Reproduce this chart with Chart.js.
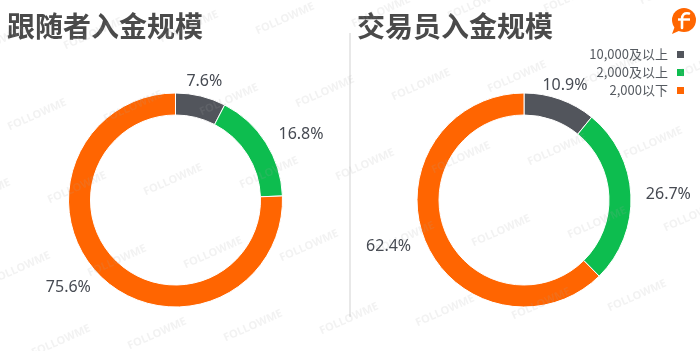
<!DOCTYPE html>
<html>
<head>
<meta charset="utf-8">
<script src="https://cdn.jsdelivr.net/npm/chart.js@4/dist/chart.umd.min.js"></script>
<style>
  html, body { margin: 0; padding: 0; background: #ffffff; }
  #wrap { position: relative; width: 700px; height: 351px; overflow: hidden; background: #fff; }
  .title { position: absolute; top: 8px; font-family: "Noto Sans CJK SC", sans-serif; font-weight: 700;
           font-size: 28px; line-height: 34px; color: #4a4a4a; white-space: nowrap; }
  canvas { position: absolute; top: 0; }
  #divider { position: absolute; left: 349px; top: 33px; width: 2px; height: 284px; background: #e8e8e8; }
  #legend { position: absolute; right: 16px; top: 45px; font-family: "Noto Sans CJK SC", "Noto Sans", sans-serif;
            font-size: 13px; color: #555a60; text-align: right; }
  #legend .row { height: 18px; line-height: 18px; white-space: nowrap; }
  #legend .box { display: inline-block; width: 7px; height: 7px; margin-left: 9px; vertical-align: 1px; }
  .wm { position: absolute; font-family: "Open Sans", sans-serif; font-weight: 700; font-size: 11px;
        color: rgba(170,170,170,0.15); transform: rotate(-24deg); white-space: nowrap; pointer-events: none; }
  #logo { position: absolute; left: 670px; top: 6px; }
</style>
</head>
<body>
<div id="wrap">
  <canvas id="c1" width="350" height="351" style="left:0px"></canvas>
  <canvas id="c2" width="350" height="351" style="left:350px"></canvas>
  <div id="divider"></div>
  <div class="title" id="t1" style="left:7px"></div>
  <div class="title" id="t2" style="left:357px"></div>
  <div id="legend"></div>
  <svg id="logo" width="28" height="30" viewBox="0 0 28 30">
    <circle cx="14" cy="14" r="12" fill="#ff6600"/>
    <path d="M5 20 L2 28 L11 24 Z" fill="#ff6600"/>
    <path d="M19 7.5 C14 6.5 12 9 12 13 L12 22" stroke="#fff" stroke-width="2.6" fill="none" stroke-linecap="round"/>
    <path d="M8 13.5 L20 13.5" stroke="#fff" stroke-width="2.4" fill="none"/>
  </svg>
</div>
<script>
// ---- data ----
const categories = ['10,000及以上', '2,000及以上', '2,000以下'];
const followerValues = [7.6, 16.8, 75.6];
const traderValues = [10.9, 26.7, 62.4];
const titles = ['跟随者入金规模', '交易员入金规模'];
const colors = ['#52555c', '#0dbd4f', '#ff6501'];

document.getElementById('t1').textContent = titles[0];
document.getElementById('t2').textContent = titles[1];

// legend
const legend = document.getElementById('legend');
categories.forEach((c, i) => {
  const row = document.createElement('div');
  row.className = 'row';
  const s = document.createElement('span');
  s.textContent = c;
  const b = document.createElement('span');
  b.className = 'box';
  b.style.background = colors[i];
  row.appendChild(s); row.appendChild(b);
  legend.appendChild(row);
});

// watermark
const wrap = document.getElementById('wrap');
for (let i = -4; i < 10; i++) {
  for (let j = -5; j < 5; j++) {
    const x = 17 + 96 * i + 40 * j;
    const y = 267 - 7.5 * i + 73 * j;
    if (x < -60 || x > 760 || y < -20 || y > 370) continue;
    const d = document.createElement('div');
    d.className = 'wm';
    d.textContent = 'FOLLOWME';
    d.style.left = (x - 28) + 'px';
    d.style.top = (y - 8) + 'px';
    wrap.appendChild(d);
  }
}

const labelPlugin = {
  id: 'outLabels',
  afterDatasetsDraw(chart) {
    const ctx = chart.ctx;
    const meta = chart.getDatasetMeta(0);
    const data = chart.data.datasets[0].data;
    ctx.save();
    ctx.font = '16px "Noto Sans", "Open Sans", sans-serif';
    ctx.fillStyle = '#464a52';
    ctx.textBaseline = 'middle';
    meta.data.forEach((arc, i) => {
      const p = arc.getProps(['x', 'y', 'startAngle', 'endAngle', 'outerRadius'], true);
      const mid = (p.startAngle + p.endAngle) / 2;
      const r = p.outerRadius + 15;
      const cx = Math.cos(mid), cy = Math.sin(mid);
      const ax = p.x + cx * r, ay = p.y + cy * r;
      ctx.textAlign = cx > 0.5 ? 'left' : (cx < -0.5 ? 'right' : 'center');
      ctx.fillText(data[i].toFixed(1) + '%', ax, ay);
    });
    ctx.restore();
  }
};

function makeChart(id, values, pad) {
  return new Chart(document.getElementById(id), {
    type: 'doughnut',
    data: {
      labels: categories,
      datasets: [{
        data: values,
        backgroundColor: colors,
        borderColor: '#ffffff',
        borderWidth: 1,
        hoverOffset: 0
      }]
    },
    options: {
      responsive: false,
      animation: false,
      cutout: 85,
      layout: { padding: pad },
      plugins: { legend: { display: false }, tooltip: { enabled: false }, title: { display: false } }
    },
    plugins: [labelPlugin]
  });
}

makeChart('c1', followerValues, { left: 68, right: 67, top: 92.5, bottom: 43.5 });
makeChart('c2', traderValues, { left: 66.5, right: 68.5, top: 92.5, bottom: 43.5 });
</script>
</body>
</html>
